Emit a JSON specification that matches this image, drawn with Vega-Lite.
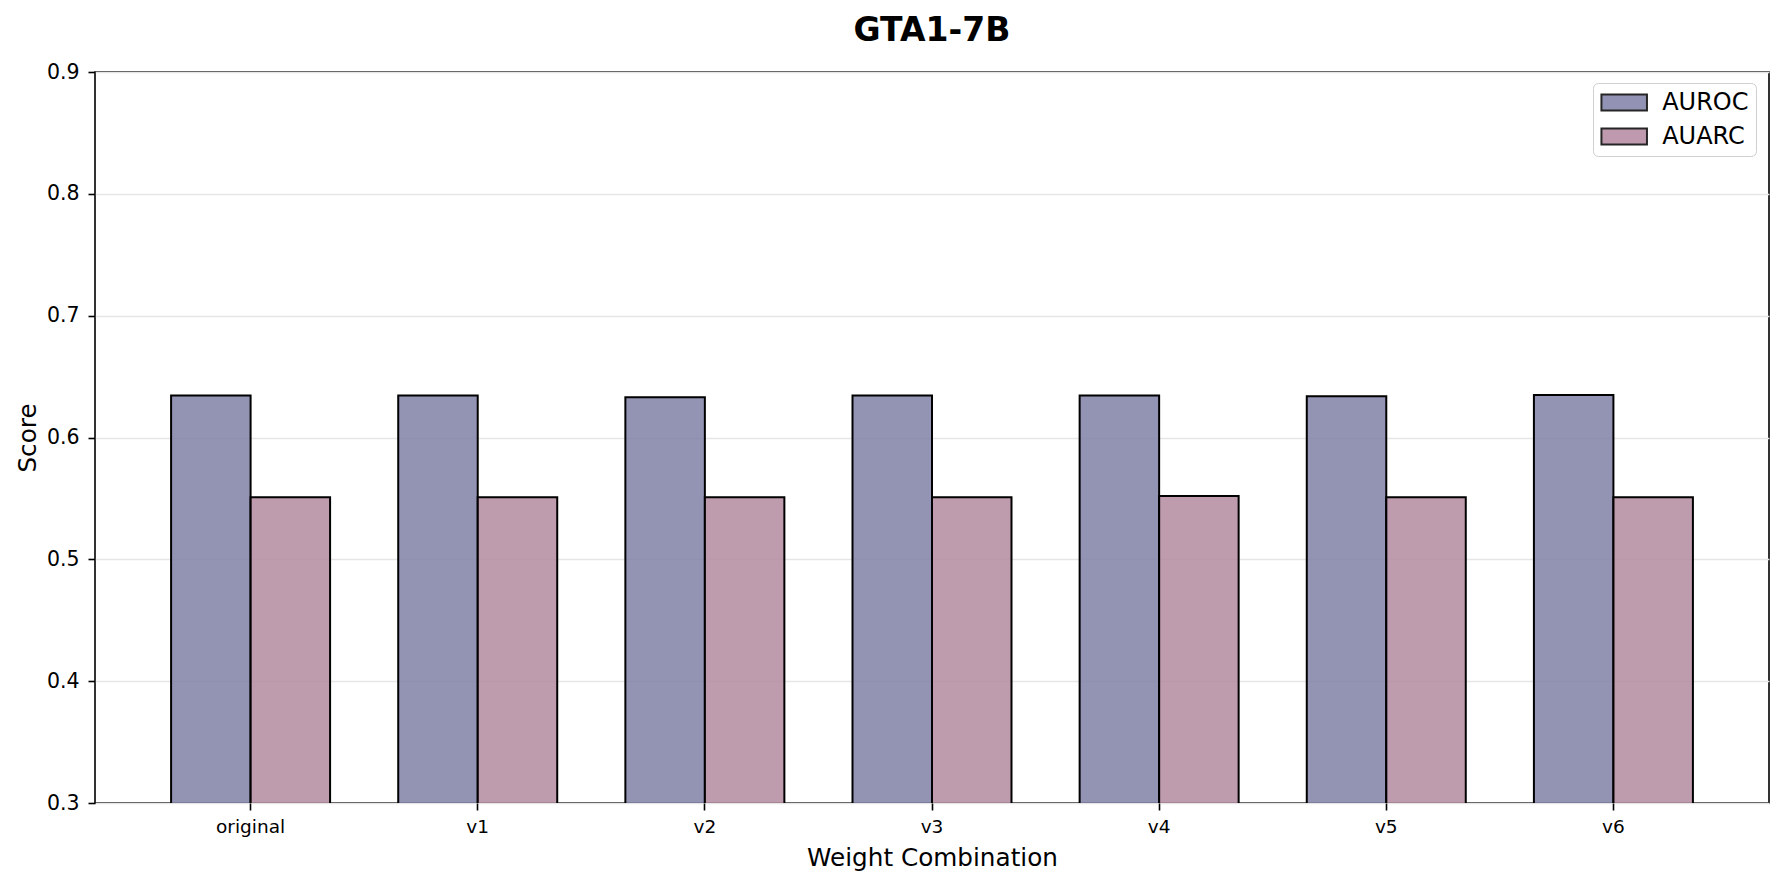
{
  "$schema": "https://vega.github.io/schema/vega-lite/v6.json",
  "autosize": {"type": "none"},
  "width": 1674,
  "height": 731,
  "padding": {"left": 95, "top": 72, "right": 15, "bottom": 82},
  "background": "white",
  "title": {"text": "GTA1-7B", "fontSize": 33, "fontWeight": "bold", "font": "DejaVu Sans", "color": "black", "anchor": "middle", "offset": 14.5},
  "config": {
    "font": "DejaVu Sans",
    "view": {"stroke": "black", "strokeWidth": 1.6},
    "axis": {"domain": false, "tickColor": "black", "tickWidth": 1.6, "tickSize": 7, "labelColor": "black", "titleColor": "black", "titleFontWeight": "normal"}
  },
  "data": {"values": [
    {"combo": "original", "metric": "AUROC", "score": 0.6345},
    {"combo": "original", "metric": "AUARC", "score": 0.551},
    {"combo": "v1", "metric": "AUROC", "score": 0.6345},
    {"combo": "v1", "metric": "AUARC", "score": 0.551},
    {"combo": "v2", "metric": "AUROC", "score": 0.633},
    {"combo": "v2", "metric": "AUARC", "score": 0.551},
    {"combo": "v3", "metric": "AUROC", "score": 0.6345},
    {"combo": "v3", "metric": "AUARC", "score": 0.551},
    {"combo": "v4", "metric": "AUROC", "score": 0.6345},
    {"combo": "v4", "metric": "AUARC", "score": 0.552},
    {"combo": "v5", "metric": "AUROC", "score": 0.6338},
    {"combo": "v5", "metric": "AUARC", "score": 0.551},
    {"combo": "v6", "metric": "AUROC", "score": 0.6348},
    {"combo": "v6", "metric": "AUARC", "score": 0.551}
  ]},
  "mark": {"type": "bar", "stroke": "black", "strokeWidth": 2, "fillOpacity": 0.85, "clip": true},
  "encoding": {
    "x": {
      "field": "combo", "type": "nominal", "sort": ["original", "v1", "v2", "v3", "v4", "v5", "v6"],
      "scale": {"paddingInner": 0.3, "paddingOuter": 0.335},
      "axis": {"title": "Weight Combination", "labelAngle": 0, "labelFontSize": 18.5, "labelBaseline": "alphabetic", "labelPadding": 22.6, "bandPosition": 0.5, "titleFontSize": 24.7, "titleBaseline": "alphabetic", "titleY": 62, "grid": false}
    },
    "xOffset": {"field": "metric", "type": "nominal", "sort": ["AUROC", "AUARC"], "scale": {"paddingInner": 0, "paddingOuter": 0}},
    "y": {
      "field": "score", "type": "quantitative",
      "scale": {"domain": [0.3, 0.9], "zero": false, "nice": false},
      "axis": {"title": "Score", "values": [0.3, 0.4, 0.5, 0.6, 0.7, 0.8, 0.9], "format": ".1f", "labelFontSize": 20.5, "labelPadding": 9, "titleFontSize": 24.7, "titleBaseline": "alphabetic", "titleX": -60, "grid": true, "gridColor": "#e6e6e6", "gridWidth": 1.6}
    },
    "fill": {
      "field": "metric", "type": "nominal",
      "scale": {"domain": ["AUROC", "AUARC"], "range": ["#8080a7", "#b489a0"]},
      "legend": {
        "title": null, "orient": "none", "legendX": 1498, "legendY": 11,
        "symbolType": "M-2,-0.712H2V0.712H-2Z", "symbolSize": 518, "symbolOffset": 11.7, "symbolStrokeColor": "black", "symbolStrokeWidth": 2, "symbolOpacity": 0.85,
        "labelFontSize": 24, "labelColor": "black", "labelOffset": 25.5,
        "padding": 7, "rowPadding": 9, "strokeColor": "#d0d0d0", "cornerRadius": 5, "fillColor": "white"
      }
    }
  }
}
